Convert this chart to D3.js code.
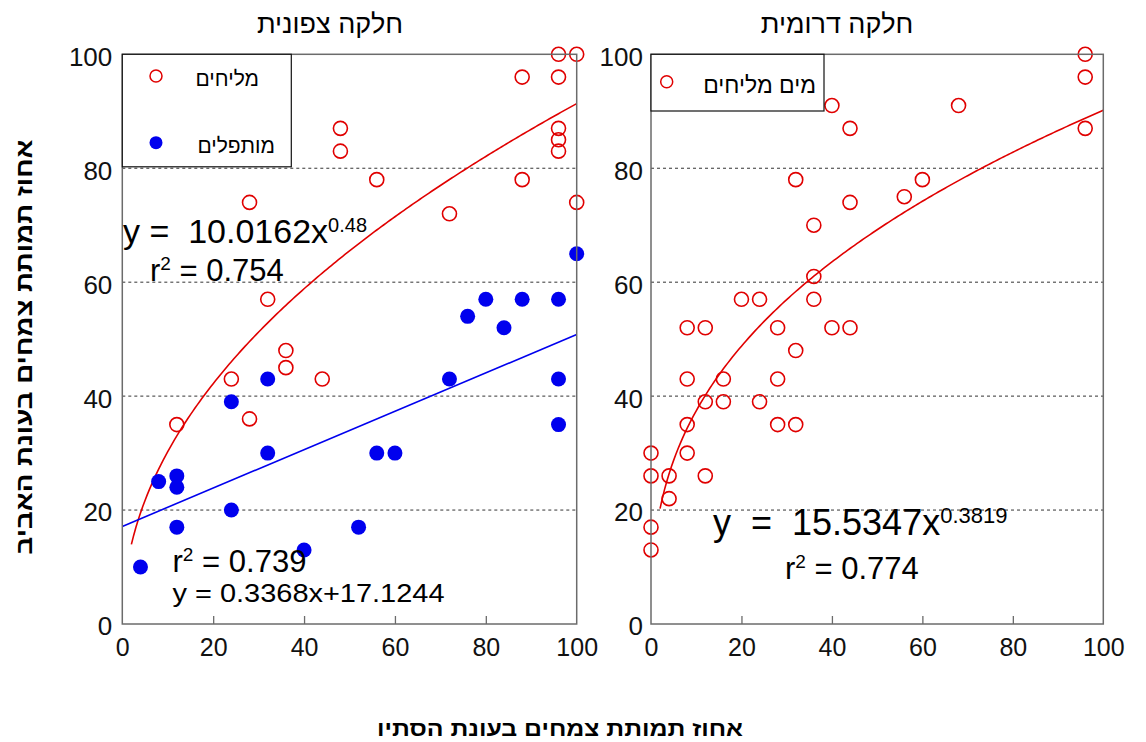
<!DOCTYPE html>
<html>
<head>
<meta charset="utf-8">
<script src="https://cdn.jsdelivr.net/npm/d3@7"></script>
<style>
  html, body { margin: 0; padding: 0; background: #fff; }
  svg { display: block; font-family: "Liberation Sans", Arial, sans-serif; }
  text { white-space: pre; }
</style>
</head>
<body>
<svg id="chart" width="1146" height="742"></svg>
<script>
// Plant mortality (%) in spring vs. autumn, two plots
const xTicks = [0, 20, 40, 60, 80, 100];
const yTicks = [0, 20, 40, 60, 80, 100];
const gridLevels = [20, 40, 60, 80];

const panelTitles = ["חלקה צפונית", "חלקה דרומית"];
const yAxisTitle = "אחוז תמותת צמחים בעונת האביב";
const xAxisTitle = "אחוז תמותת צמחים בעונת הסתיו";

// North plot – saline water
const northSalineX = [96, 100, 88, 96, 48, 48, 96, 96, 96, 56, 88, 28, 100, 72, 32, 36, 36, 24, 44, 28, 12];
const northSalineY = [100, 100, 96, 96, 87, 83, 87, 85, 83, 78, 78, 74, 74, 72, 57, 48, 45, 43, 43, 36, 35];
// North plot – desalinated water
const northDesalX = [100, 80, 88, 96, 76, 84, 32, 72, 96, 24, 96, 32, 56, 60, 8, 12, 12, 24, 12, 52, 40, 4];
const northDesalY = [65, 57, 57, 57, 54, 52, 43, 43, 43, 39, 35, 30, 30, 30, 25, 26, 24, 20, 17, 17, 13, 10];
// South plot – saline water
const southSalineX = [96, 96, 96, 40, 68, 44, 32, 60, 56, 44, 36, 36, 36, 20, 24, 8, 12, 28, 40, 44,
                      32, 8, 16, 28, 12, 16, 24, 8, 28, 32, 0, 8, 0, 4, 12, 4, 0, 0];
const southSalineY = [100, 96, 87, 91, 91, 87, 78, 78, 75, 74, 70, 61, 57, 57, 57, 52, 52, 52, 52, 52,
                      48, 43, 43, 43, 39, 39, 39, 35, 35, 35, 30, 30, 26, 26, 26, 22, 17, 13];

const legendNorth = ["מליחים", "מותפלים"];
const legendSouth = ["מים מליחים"];

// Fitted relations
const northPower = { a: 10.0162, b: 0.48, r2: "0.754" };
const northLinear = { slope: 0.3368, intercept: 17.1244, r2: "0.739" };
const southPower = { a: 15.5347, b: 0.3819, r2: "0.774" };
const fitStart = 2;

const RED = "#e00000";
const BLUE = "#0000ee";
const FRAME = "#6b6b6b";

const svg = d3.select("#chart");

function zipXY(xs, ys) { return xs.map((x, i) => ({ x, y: ys[i] })); }

function drawPanel(left, right, top, bottom, labelGap) {
  const x = d3.scaleLinear().domain([0, 100]).range([left, right]);
  const y = d3.scaleLinear().domain([0, 100]).range([bottom, top]);
  const g = svg.append("g");

  // dashed grid
  g.selectAll("line.grid").data(gridLevels).join("line")
    .attr("x1", x(0)).attr("x2", x(100))
    .attr("y1", d => y(d)).attr("y2", d => y(d))
    .attr("stroke", "#333").attr("stroke-width", 1)
    .attr("stroke-dasharray", "3,3");

  // bottom axis with inward ticks
  const xAxis = d3.axisBottom(x).tickValues(xTicks).tickSize(-8).tickPadding(14).tickFormat(d3.format("d"));
  const xa = g.append("g").attr("transform", `translate(0,${bottom})`).call(xAxis);
  xa.select(".domain").remove();
  xa.selectAll(".tick line").attr("stroke", FRAME).attr("stroke-width", 1.3)
    .filter(d => d === 0 || d === 100).remove();
  xa.selectAll(".tick text").attr("font-size", 25).attr("fill", "#111")
    .attr("font-family", "Liberation Sans, Arial, sans-serif");

  // left axis labels
  const yAxis = d3.axisLeft(y).tickValues(yTicks).tickSize(0).tickPadding(labelGap).tickFormat(d3.format("d"));
  const ya = g.append("g").attr("transform", `translate(${left},0)`).call(yAxis);
  ya.select(".domain").remove();
  ya.selectAll(".tick text").attr("font-size", 26).attr("fill", "#111").attr("dy", "0.42em")
    .attr("font-family", "Liberation Sans, Arial, sans-serif");

  return { g, x, y };
}

function frame(p) {
  p.g.append("rect")
    .attr("x", p.x(0)).attr("y", p.y(100))
    .attr("width", p.x(100) - p.x(0)).attr("height", p.y(0) - p.y(100))
    .attr("fill", "none").attr("stroke", FRAME).attr("stroke-width", 1.5);
}

function powerCurve(p, fit, color) {
  const xs = d3.range(fitStart, 100.001, 0.5);
  const line = d3.line().x(d => p.x(d)).y(d => p.y(fit.a * Math.pow(d, fit.b)));
  p.g.append("path").datum(xs).attr("d", line)
    .attr("fill", "none").attr("stroke", color).attr("stroke-width", 1.6);
}

function openPoints(p, data) {
  p.g.selectAll(null).data(data).join("circle")
    .attr("cx", d => p.x(d.x)).attr("cy", d => p.y(d.y)).attr("r", 7)
    .attr("fill", "none").attr("stroke", RED).attr("stroke-width", 1.6);
}

function filledPoints(p, data) {
  p.g.selectAll(null).data(data).join("circle")
    .attr("cx", d => p.x(d.x)).attr("cy", d => p.y(d.y)).attr("r", 7.5)
    .attr("fill", BLUE);
}

// text with an optional raised part; dy values keep the raised part relative to the baseline
function textLabel(parent, xPos, yPos, size, parts) {
  const t = parent.append("text").attr("x", xPos).attr("y", yPos)
    .attr("font-size", size).attr("fill", "#000");
  parts.forEach(pt => {
    const s = t.append("tspan").text(pt.text);
    if (pt.sup) s.attr("font-size", pt.sup).attr("dy", -pt.raise);
    if (pt.drop) s.attr("dy", pt.drop);
  });
  return t;
}

// ---- North plot ----
const north = drawPanel(122.3, 576.7, 54.3, 624, 10);
powerCurve(north, northPower, RED);
north.g.append("line")
  .attr("x1", north.x(0)).attr("x2", north.x(100))
  .attr("y1", north.y(northLinear.intercept))
  .attr("y2", north.y(northLinear.intercept + northLinear.slope * 100))
  .attr("stroke", BLUE).attr("stroke-width", 1.6);
openPoints(north, zipXY(northSalineX, northSalineY));
filledPoints(north, zipXY(northDesalX, northDesalY));
frame(north);

// legend
north.g.append("rect").attr("x", 122.3).attr("y", 54.3).attr("width", 169).attr("height", 112.5)
  .attr("fill", "#fff").attr("stroke", "#111").attr("stroke-width", 1.2);
north.g.append("circle").attr("cx", 156).attr("cy", 76).attr("r", 6)
  .attr("fill", "none").attr("stroke", RED).attr("stroke-width", 1.5);
north.g.append("circle").attr("cx", 156).attr("cy", 142.7).attr("r", 6.5).attr("fill", BLUE);
north.g.append("text").attr("x", 259).attr("y", 86).attr("text-anchor", "end")
  .attr("font-size", 21).text(legendNorth[0]);
north.g.append("text").attr("x", 275).attr("y", 153).attr("text-anchor", "end")
  .attr("font-size", 21).text(legendNorth[1]);

// fit annotations
textLabel(north.g, 123, 242.5, 34, [
  { text: "y =  " + northPower.a.toFixed(4) + "x" },
  { text: String(northPower.b), sup: 20, raise: 11 }
]);
textLabel(north.g, 150, 280.5, 31, [
  { text: "r" }, { text: "2", sup: 19, raise: 11 }, { text: " = " + northPower.r2, drop: 11 }
]);
textLabel(north.g, 172.5, 571.5, 31, [
  { text: "r" }, { text: "2", sup: 19, raise: 11 }, { text: " = " + northLinear.r2, drop: 11 }
]).attr("textLength", 134).attr("lengthAdjust", "spacingAndGlyphs");
north.g.append("text").attr("x", 172.5).attr("y", 601.5).attr("font-size", 25)
  .attr("textLength", 272).attr("lengthAdjust", "spacingAndGlyphs")
  .text(`y = ${northLinear.slope}x+${northLinear.intercept}`);

// ---- South plot ----
const south = drawPanel(651, 1103.3, 54.3, 624, 8);
powerCurve(south, southPower, RED);
openPoints(south, zipXY(southSalineX, southSalineY));
frame(south);

south.g.append("rect").attr("x", 651).attr("y", 54.3).attr("width", 173).attr("height", 56.7)
  .attr("fill", "#fff").attr("stroke", "#111").attr("stroke-width", 1.2);
south.g.append("circle").attr("cx", 666.7).attr("cy", 81.7).attr("r", 6)
  .attr("fill", "none").attr("stroke", RED).attr("stroke-width", 1.5);
south.g.append("text").attr("x", 816).attr("y", 93).attr("text-anchor", "end")
  .attr("font-size", 23).text(legendSouth[0]);

textLabel(south.g, 713, 535, 36, [
  { text: "y  =  " + southPower.a.toFixed(4) + "x" },
  { text: String(southPower.b), sup: 22, raise: 12 }
]);
textLabel(south.g, 785, 579, 31, [
  { text: "r" }, { text: "2", sup: 19, raise: 11 }, { text: " = " + southPower.r2, drop: 11 }
]);

// ---- Titles ----
svg.append("text").attr("x", 330).attr("y", 33).attr("text-anchor", "middle")
  .attr("font-size", 27).text(panelTitles[0]);
svg.append("text").attr("x", 837).attr("y", 33).attr("text-anchor", "middle")
  .attr("font-size", 27).text(panelTitles[1]);

svg.append("text")
  .attr("transform", "translate(32,347) rotate(-90)")
  .attr("text-anchor", "middle").attr("font-size", 23).attr("font-weight", "bold")
  .attr("textLength", 415).attr("lengthAdjust", "spacingAndGlyphs")
  .text(yAxisTitle);
svg.append("text").attr("x", 560).attr("y", 736).attr("text-anchor", "middle")
  .attr("font-size", 21).attr("font-weight", "bold")
  .attr("textLength", 366).attr("lengthAdjust", "spacingAndGlyphs")
  .text(xAxisTitle);
</script>
</body>
</html>
